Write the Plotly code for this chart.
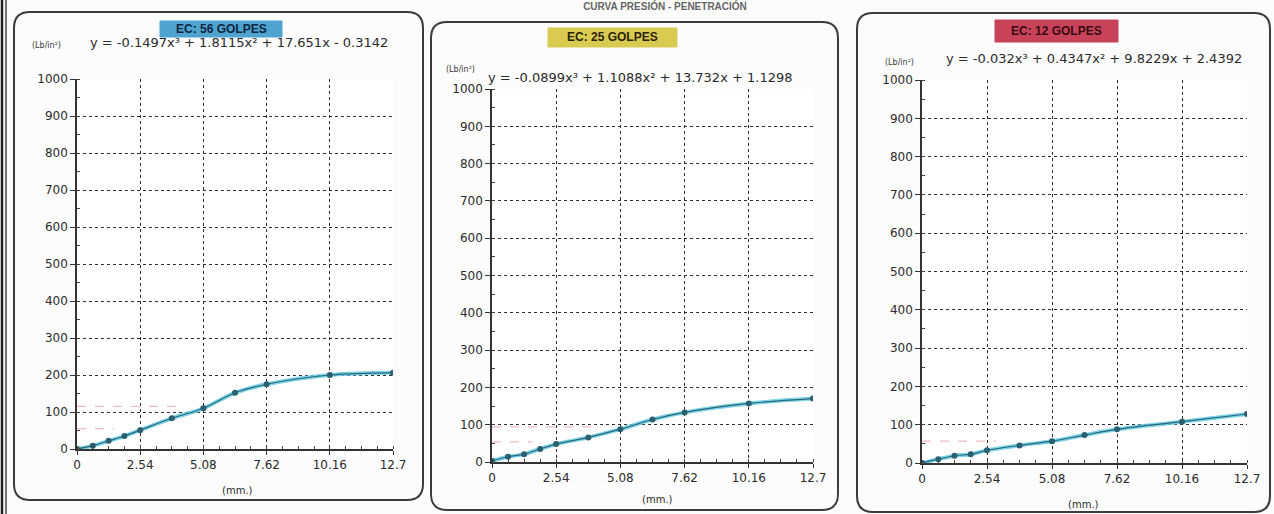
import plotly.graph_objects as go

# ---------------- data ----------------
penetracion = [0, 0.635, 1.27, 1.905, 2.54, 3.81, 5.08, 6.35, 7.62, 10.16, 12.7]
esfuerzo_56 = [0, 9, 22, 35, 51, 83, 110, 152, 175, 200, 206]
esfuerzo_25 = [3, 14, 21, 35, 48, 66, 88, 114, 133, 157, 170]
esfuerzo_12 = [0, 10, 19, 23, 33, 46, 57, 73, 88, 108, 128]

x_tick_vals = [0, 2.54, 5.08, 7.62, 10.16, 12.7]
x_tick_text = ["0", "2.54", "5.08", "7.62", "10.16", "12.7"]
y_tick_vals = [0, 100, 200, 300, 400, 500, 600, 700, 800, 900, 1000]
y_tick_text = ["0", "100", "200", "300", "400", "500", "600", "700", "800", "900", "1000"]

titulos = ["EC: 56 GOLPES", "EC: 25 GOLPES", "EC: 12 GOLPES"]
ecuaciones = [
    "y = -0.1497x³ + 1.8115x² + 17.651x - 0.3142",
    "y = -0.0899x³ + 1.1088x² + 13.732x + 1.1298",
    "y = -0.032x³ + 0.4347x² + 9.8229x + 2.4392",
]
# faint dashed reference readings (value, x-extent)
ref_56_vals = [115, 55]
ref_56_ext = [4.0, 1.5]
ref_25_vals = [94, 54]
ref_25_ext = [4.3, 1.6]
ref_12_vals = [57]
ref_12_ext = [2.9]

titulo_general = "CURVA PRESIÓN - PENETRACIÓN"

# ---------------- layout helpers ----------------
W, H = 1274, 514
def fx(px):
    return px / W
def fy(py):
    return 1 - py / H

panels = [
    dict(series=esfuerzo_56, refs=(ref_56_vals, ref_56_ext),
         plot=(77, 393, 79, 449), box=(14, 423, 12, 500), radius=16,
         tbox=(160, 282, 21, 37), tcol="#4fa3cf", tfont="#10263f",
         eq=(239, 42), unit=(46, 45), mm=(237, 490)),
    dict(series=esfuerzo_25, refs=(ref_25_vals, ref_25_ext),
         plot=(492, 813, 89, 462), box=(431, 838, 22, 510), radius=16,
         tbox=(548, 677, 28, 47), tcol="#d9cb52", tfont="#2a2500",
         eq=(640, 77), unit=(460, 70), mm=(657, 499)),
    dict(series=esfuerzo_12, refs=(ref_12_vals, ref_12_ext),
         plot=(922, 1247, 80, 463), box=(857, 1270, 13, 512), radius=16,
         tbox=(995, 1118, 20, 42), tcol="#c8435a", tfont="#3a0a12",
         eq=(1094, 58), unit=(899, 62), mm=(1083, 504)),
]

fig = go.Figure()
shapes = []
annotations = []

tick_font = dict(family="DejaVu Sans", size=12, color="#2b2b2b")

for i, p in enumerate(panels, start=1):
    sfx = "" if i == 1 else str(i)
    xa, ya = "x" + sfx, "y" + sfx
    x0, x1, y0, y1 = p["plot"]

    # faint reference lines
    for val, ext in zip(*p["refs"]):
        fig.add_trace(go.Scatter(
            x=[0, ext], y=[val, val], mode="lines",
            line=dict(color="rgba(225,130,150,0.55)", width=1.2, dash="dash"),
            xaxis=xa, yaxis=ya, showlegend=False, hoverinfo="skip"))

    # smooth cyan line
    fig.add_trace(go.Scatter(
        x=penetracion, y=p["series"], mode="lines",
        line=dict(color="rgba(100,205,228,0.85)", width=4, shape="spline", smoothing=1.0),
        xaxis=xa, yaxis=ya, showlegend=False, hoverinfo="skip"))
    # data line with points
    fig.add_trace(go.Scatter(
        x=penetracion, y=p["series"], mode="lines+markers",
        line=dict(color="#2c6678", width=1.2, shape="spline", smoothing=1.0),
        marker=dict(color="#2a5f70", size=6),
        xaxis=xa, yaxis=ya, showlegend=False))

    fig.layout["xaxis" + sfx] = dict(
        domain=[fx(x0), fx(x1)], anchor=ya, range=[0, 12.7],
        tickmode="array", tickvals=x_tick_vals, ticktext=x_tick_text,
        showgrid=True, gridcolor="#2e2e2e", griddash="dot", gridwidth=1.2,
        showline=True, linecolor="#333", linewidth=1.5,
        ticks="outside", ticklen=4, tickcolor="#333",
        minor=dict(tickmode="linear", tick0=0, dtick=0.635, ticks="inside",
                   ticklen=3, tickcolor="#444", showgrid=False),
        tickfont=tick_font, zeroline=False, fixedrange=True, automargin=False)
    fig.layout["yaxis" + sfx] = dict(
        domain=[fy(y1), fy(y0)], anchor=xa, range=[0, 1000],
        tickmode="array", tickvals=y_tick_vals, ticktext=y_tick_text,
        showgrid=True, gridcolor="#2e2e2e", griddash="dot", gridwidth=1.2,
        showline=True, linecolor="#333", linewidth=1.5,
        ticks="outside", ticklen=5, tickcolor="#333",
        minor=dict(tickmode="linear", tick0=0, dtick=50, ticks="inside",
                   ticklen=3, tickcolor="#444", showgrid=False),
        tickfont=tick_font, zeroline=False, fixedrange=True, automargin=False)

    # rounded panel box
    bx0, bx1, by0, by1 = p["box"]
    r = p["radius"]
    rx, ry = r / W, r / H
    X0, X1, Y0, Y1 = fx(bx0), fx(bx1), fy(by0), fy(by1)
    path = (f"M {X0+rx},{Y0} L {X1-rx},{Y0} Q {X1},{Y0} {X1},{Y0-ry} "
            f"L {X1},{Y1+ry} Q {X1},{Y1} {X1-rx},{Y1} "
            f"L {X0+rx},{Y1} Q {X0},{Y1} {X0},{Y1+ry} "
            f"L {X0},{Y0-ry} Q {X0},{Y0} {X0+rx},{Y0} Z")
    shapes.append(dict(type="path", path=path, xref="paper", yref="paper",
                       line=dict(color="#3c3c3c", width=2), layer="below"))

    # title box
    tx0, tx1, ty0, ty1 = p["tbox"]
    shapes.append(dict(type="rect", xref="paper", yref="paper",
                       x0=fx(tx0), x1=fx(tx1), y0=fy(ty1), y1=fy(ty0),
                       fillcolor=p["tcol"], line=dict(color=p["tcol"], width=1),
                       layer="below"))
    annotations.append(dict(text=f"<b>{titulos[i-1]}</b>", xref="paper", yref="paper",
                            x=fx((tx0 + tx1) / 2), y=fy((ty0 + ty1) / 2),
                            xanchor="center", yanchor="middle", showarrow=False,
                            font=dict(family="Liberation Sans", size=12, color=p["tfont"])))
    # equation
    annotations.append(dict(text=ecuaciones[i-1], xref="paper", yref="paper",
                            x=fx(p["eq"][0]), y=fy(p["eq"][1]),
                            xanchor="center", yanchor="middle", showarrow=False,
                            font=dict(family="DejaVu Sans", size=13, color="#2b2b2b")))
    # unit label
    annotations.append(dict(text="(Lb/in²)", xref="paper", yref="paper",
                            x=fx(p["unit"][0]), y=fy(p["unit"][1]),
                            xanchor="center", yanchor="middle", showarrow=False,
                            font=dict(family="DejaVu Sans", size=8, color="#3a3a3a")))
    # x-axis unit
    annotations.append(dict(text="(mm.)", xref="paper", yref="paper",
                            x=fx(p["mm"][0]), y=fy(p["mm"][1]),
                            xanchor="center", yanchor="middle", showarrow=False,
                            font=dict(family="DejaVu Sans", size=10, color="#2b2b2b")))

# left page border (scan edge)
shapes.append(dict(type="line", xref="paper", yref="paper",
                   x0=fx(2), x1=fx(2), y0=0, y1=1, line=dict(color="#222", width=2.5)))
shapes.append(dict(type="line", xref="paper", yref="paper",
                   x0=fx(6), x1=fx(6), y0=0, y1=1, line=dict(color="#444", width=1.5)))

fig.update_layout(
    width=W, height=H, autosize=False,
    margin=dict(l=0, r=0, t=0, b=0, autoexpand=False),
    paper_bgcolor="#fcfcfc", plot_bgcolor="#ffffff",
    shapes=shapes, annotations=annotations,
    showlegend=False,
    # general title at the very top of the scanned page
    title=dict(text=f"<b>{titulo_general}</b>", x=fx(665), xanchor="center",
               y=1 - 6 / H, yref="container", yanchor="middle", automargin=False,
               font=dict(family="Liberation Sans", size=10, color="#666")),
)

fig.write_html(
    "out.html",
    config={"responsive": False, "displayModeBar": False},
    post_script="document.body.style.margin='0';document.body.style.overflow='hidden';",
)
